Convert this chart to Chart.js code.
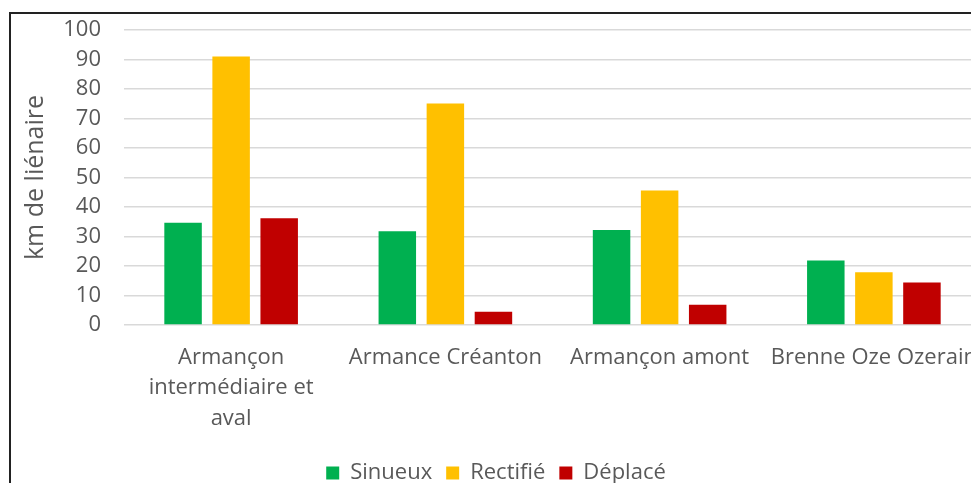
<!DOCTYPE html>
<html>
<head>
<meta charset="utf-8">
<script src="https://cdn.jsdelivr.net/npm/chart.js@4"></script>
<style>
  html, body { margin: 0; padding: 0; background: #fff; overflow: hidden; width: 971px; height: 483px; }
  #box { position: absolute; left: 9px; top: 12px; width: 990px; height: 480px; border-left: 2px solid #222; border-top: 2px solid #222; background: #fff; }
</style>
</head>
<body>
<div id="box"><canvas id="chart" width="990" height="480"></canvas></div>
<script>
// categories (multi-line labels as they wrap in the picture)
const categories = [
    ["Armançon", "intermédiaire et", "aval"],
    "Armance Créanton",
    "Armançon amont",
    "Brenne Oze Ozerain"
];
const sinueux = [34.7, 31.8, 32.2, 21.9];
const rectifie = [91.0, 75.1, 45.6, 17.9];
const deplace = [36.2, 4.5, 6.9, 14.4];
const yTicks = [0, 10, 20, 30, 40, 50, 60, 70, 80, 90, 100];

const textColor = "#595959";
const fontFamily = "'Open Sans', sans-serif";

const ctx = document.getElementById("chart").getContext("2d");
new Chart(ctx, {
    type: "bar",
    data: {
        labels: categories,
        datasets: [
            { label: "Sinueux", data: sinueux, backgroundColor: "#00B050" },
            { label: "Rectifié", data: rectifie, backgroundColor: "#FFC000" },
            { label: "Déplacé", data: deplace, backgroundColor: "#C00000" }
        ]
    },
    options: {
        responsive: false,
        animation: false,
        layout: { padding: { top: 16, left: 0, right: 20, bottom: 0 } },
        datasets: { bar: { categoryPercentage: 0.673, barPercentage: 0.78 } },
        plugins: {
            tooltip: { enabled: false },
            legend: {
                position: "bottom",
                labels: {
                    boxWidth: 13,
                    boxHeight: 13,
                    padding: 14,
                    color: textColor,
                    font: { family: fontFamily, size: 22 }
                }
            }
        },
        scales: {
            x: {
                grid: { display: false, drawTicks: false },
                border: { display: false },
                ticks: {
                    color: textColor,
                    padding: 17,
                    maxRotation: 0,
                    autoSkip: false,
                    font: { family: fontFamily, size: 22, lineHeight: 1.4 }
                },
                afterFit: function(scale) { scale.height = 123; }
            },
            y: {
                min: 0,
                max: 100,
                afterBuildTicks: function(scale) {
                    scale.ticks = yTicks.map(v => ({ value: v }));
                },
                grid: { color: "#d9d9d9", lineWidth: 1.5, drawTicks: false },
                border: { display: false },
                ticks: {
                    color: textColor,
                    padding: 23,
                    autoSkip: false,
                    font: { family: fontFamily, size: 22 }
                },
                title: {
                    display: true,
                    text: "km de liénaire",
                    color: textColor,
                    padding: { top: 10, bottom: 0 },
                    font: { family: fontFamily, size: 25 }
                },
                afterFit: function(scale) {
                    scale.width = 113;
                    scale.paddingTop = 0;
                    scale.paddingBottom = 0;
                }
            }
        }
    }
});
</script>
</body>
</html>
